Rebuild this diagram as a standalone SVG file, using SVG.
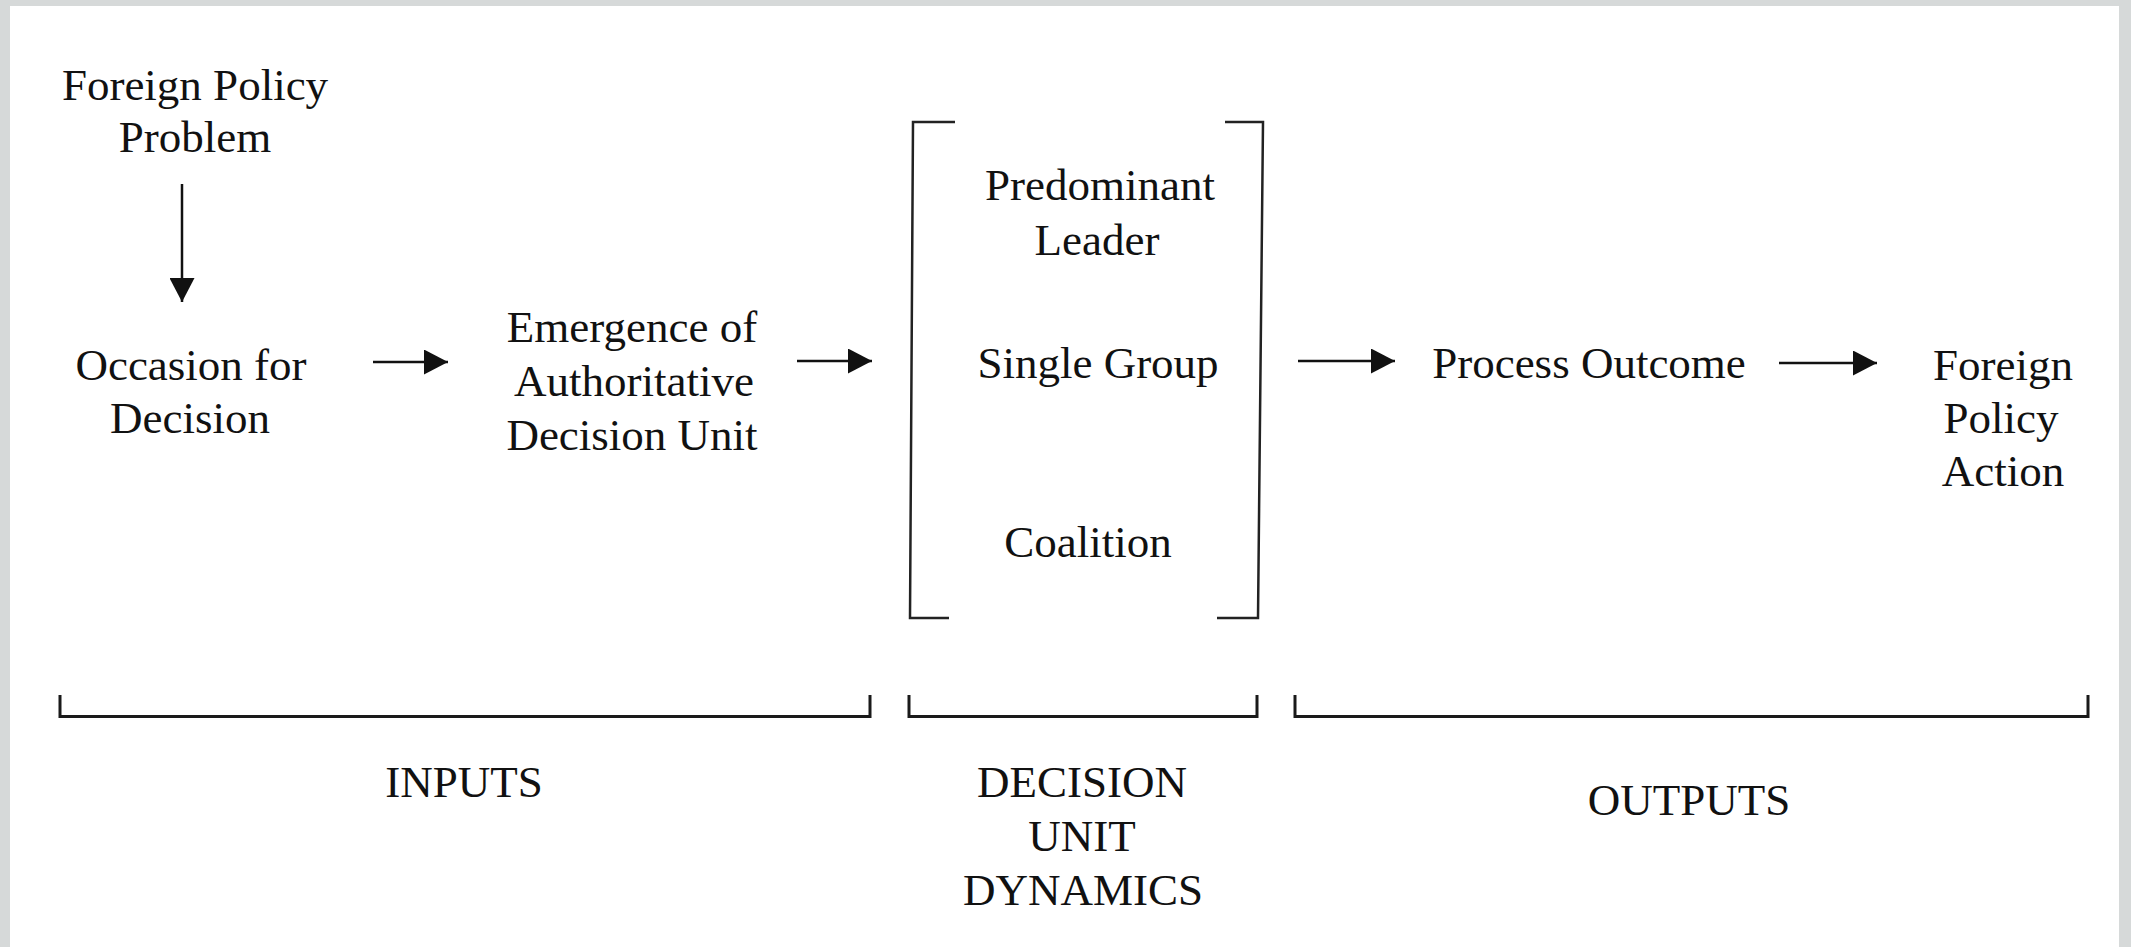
<svg xmlns="http://www.w3.org/2000/svg" width="2131" height="947" viewBox="0 0 2131 947">
<style>
  text { font-family: "Liberation Serif", "Times New Roman", serif; font-size: 45px; fill: #111; text-anchor: middle; }
  .conn { stroke: #111; stroke-width: 2.5; fill: none; }
  .brk { stroke: #222; stroke-width: 2.5; fill: none; }
  .sbrk { stroke: #1a1a1a; stroke-width: 3; fill: none; }
</style>
<defs>
  <marker id="ah" markerUnits="userSpaceOnUse" markerWidth="24" markerHeight="25" refX="24" refY="12.5" orient="auto">
    <path d="M0,0 L24,12.5 L0,25 Z" fill="#111"/>
  </marker>
</defs>
<rect x="0" y="0" width="2131" height="947" fill="#d6d9d9"/>
<rect x="10" y="6" width="2109" height="941" fill="#ffffff"/>

<g id="node-problem">
  <text x="195" y="100">Foreign Policy</text>
  <text x="195" y="152">Problem</text>
</g>
<g id="node-occasion">
  <text x="191" y="380">Occasion for</text>
  <text x="190" y="433">Decision</text>
</g>
<g id="node-emergence">
  <text x="632" y="342">Emergence of</text>
  <text x="634" y="396">Authoritative</text>
  <text x="632" y="450">Decision Unit</text>
</g>
<g id="node-units">
  <path class="brk" d="M955,122 L913,122 L910,618 L949,618"/>
  <path class="brk" d="M1225,122 L1263,122 L1258,618 L1217,618"/>
  <text x="1100" y="200">Predominant</text>
  <text x="1097" y="255">Leader</text>
  <text x="1098" y="378">Single Group</text>
  <text x="1088" y="557">Coalition</text>
</g>
<g id="node-outcome">
  <text x="1589" y="378">Process Outcome</text>
</g>
<g id="node-action">
  <text x="2003" y="380">Foreign</text>
  <text x="2001" y="433">Policy</text>
  <text x="2003" y="486">Action</text>
</g>

<g id="connectors">
  <line class="conn" x1="182" y1="184" x2="182" y2="302" marker-end="url(#ah)"/>
  <line class="conn" x1="373" y1="362" x2="448" y2="362" marker-end="url(#ah)"/>
  <line class="conn" x1="797" y1="361" x2="872" y2="361" marker-end="url(#ah)"/>
  <line class="conn" x1="1298" y1="361" x2="1395" y2="361" marker-end="url(#ah)"/>
  <line class="conn" x1="1779" y1="363" x2="1877" y2="363" marker-end="url(#ah)"/>
</g>

<g id="group-inputs">
  <path class="sbrk" d="M60,695 L60,716.5 L870,716.5 L870,695"/>
  <text x="464" y="797">INPUTS</text>
</g>
<g id="group-dynamics">
  <path class="sbrk" d="M909,695 L909,716.5 L1257,716.5 L1257,695"/>
  <text x="1082" y="797">DECISION</text>
  <text x="1082" y="851">UNIT</text>
  <text x="1083" y="905">DYNAMICS</text>
</g>
<g id="group-outputs">
  <path class="sbrk" d="M1295,695 L1295,716.5 L2088,716.5 L2088,695"/>
  <text x="1689" y="815">OUTPUTS</text>
</g>
</svg>
